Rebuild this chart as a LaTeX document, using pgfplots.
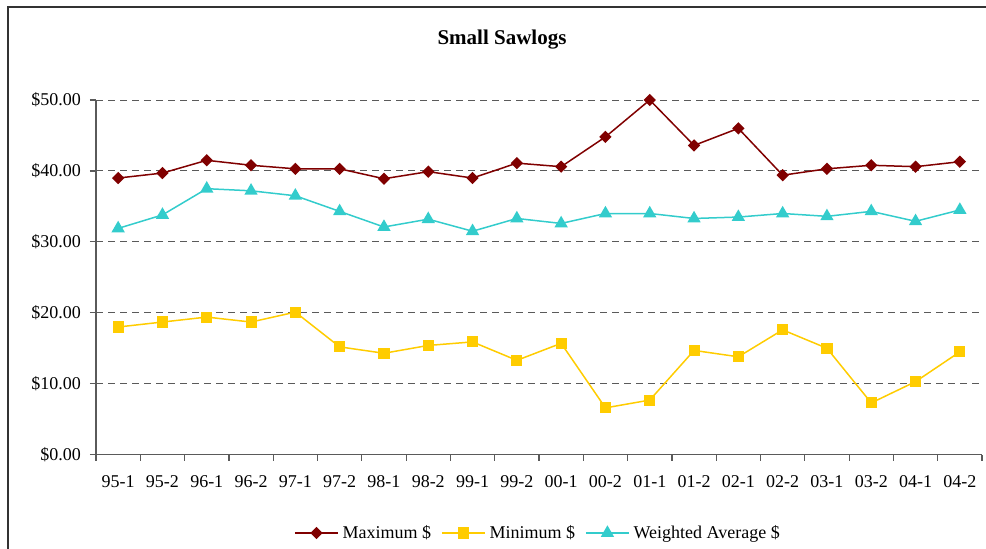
\documentclass[border=0pt]{standalone}
\usepackage{fontspec}
\setmainfont{Liberation Serif}
\usepackage{pgfplots}
\pgfplotsset{compat=1.18}
\definecolor{maxred}{HTML}{800000}
\definecolor{minyel}{HTML}{FFCC00}
\definecolor{avgcyan}{HTML}{33CCCC}
\definecolor{gridgray}{HTML}{5A5A5A}

% 1 px of the reference = 0.5pt
\begin{document}
\begin{tikzpicture}
\useasboundingbox (0,0) rectangle (493pt,-274.5pt);
\draw[line width=1pt, black!80] (4pt,-274.5pt) -- (4pt,-3.65pt) -- (493pt,-3.65pt);
\node[font=\fontsize{10.5}{12}\selectfont\bfseries, anchor=base] at (251pt,-22.5pt) {Small Sawlogs};
\begin{axis}[
  at={(48pt,-227.35pt)}, anchor=south west,
  scale only axis, width=443pt, height=177.35pt,
  xmin=-0.5, xmax=19.5, ymin=0, ymax=50,
  axis x line*=bottom, axis y line*=left,
  axis line style={gridgray, line width=0.6pt, -},
  xtick={0,...,19},
  xticklabels={95-1,95-2,96-1,96-2,97-1,97-2,98-1,98-2,99-1,99-2,00-1,00-2,01-1,01-2,02-1,02-2,03-1,03-2,04-1,04-2},
  major x tick style={draw=none},
  minor xtick={-0.5,0.5,...,19.5},
  minor tick length=3pt,
  minor x tick style={gridgray, line width=0.6pt},
  ytick={0,10,...,50},
  major tick length=3pt,
  tick align=outside,
  y tick style={gridgray, line width=0.6pt},
  ymajorgrids,
  grid style={gridgray, line width=0.5pt, dash pattern=on 3.5pt off 2.5pt},
  /pgf/number format/assume math mode=true,
  yticklabel={\$\pgfmathprintnumber[fixed,fixed zerofill,precision=2]{\tick}},
  tick label style={font=\fontsize{9}{10}\selectfont},
  yticklabel style={xshift=-1pt},
  xticklabel style={yshift=-4pt},
  legend style={at={(0.5,-0.2208)}, anchor=center, draw=none, fill=none,
    legend columns=3, font=\fontsize{9}{10}\selectfont,
    /tikz/every even column/.append style={column sep=3pt}},
  legend image code/.code={\draw[mark repeat=2,mark phase=2] plot coordinates {(0pt,0pt) (10.75pt,0pt) (21.5pt,0pt)};},
  every axis plot/.append style={line width=0.75pt},
]
\addplot[color=maxred, mark=square*, mark size=1.8pt, mark options={solid, rotate=45}] coordinates {
  (0,39.0) (1,39.7) (2,41.5) (3,40.8) (4,40.3) (5,40.3) (6,38.9) (7,39.9) (8,39.0) (9,41.1)
  (10,40.6) (11,44.8) (12,50.0) (13,43.6) (14,46.0) (15,39.4) (16,40.3) (17,40.8) (18,40.6) (19,41.3)
};
\addlegendentry{Maximum \$}
\addplot[color=minyel, mark=square*, mark size=2.4pt, mark options={solid}] coordinates {
  (0,18.0) (1,18.7) (2,19.4) (3,18.7) (4,20.1) (5,15.2) (6,14.3) (7,15.4) (8,15.9) (9,13.3)
  (10,15.7) (11,6.6) (12,7.7) (13,14.7) (14,13.8) (15,17.6) (16,15.0) (17,7.3) (18,10.3) (19,14.5)
};
\addlegendentry{Minimum \$}
\addplot[color=avgcyan, mark=triangle*, mark size=3.1pt, mark options={solid}] coordinates {
  (0,31.9) (1,33.8) (2,37.5) (3,37.2) (4,36.5) (5,34.3) (6,32.1) (7,33.2) (8,31.5) (9,33.3)
  (10,32.6) (11,34.0) (12,34.0) (13,33.3) (14,33.5) (15,34.0) (16,33.6) (17,34.3) (18,32.9) (19,34.5)
};
\addlegendentry{Weighted Average \$}
\end{axis}
\end{tikzpicture}
\end{document}
